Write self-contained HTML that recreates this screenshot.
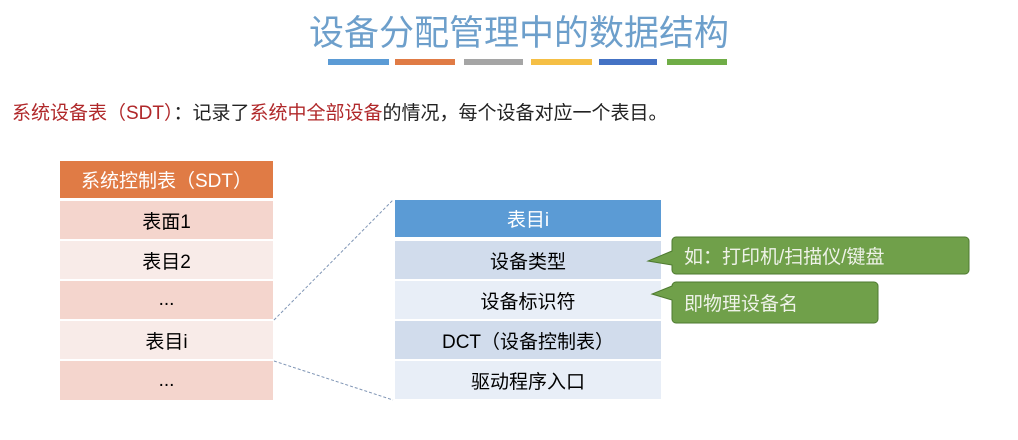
<!DOCTYPE html>
<html><head><meta charset="utf-8"><style>
body{margin:0;width:1018px;height:440px;background:#fff;position:relative;overflow:hidden;font-family:"Liberation Sans","Noto Sans CJK SC",sans-serif;}
.a{position:absolute;box-sizing:border-box;display:flex;align-items:center;justify-content:center;white-space:nowrap}
</style></head><body>
<div class="a" style="left:10px;top:8px;width:1018px;height:44px;font-size:35px;color:#6d9fcb;">设备分配管理中的数据结构</div>
<div style="position:absolute;top:59px;left:328px;width:61px;height:6px;background:#5b9bd5"></div>
<div style="position:absolute;top:59px;left:395px;width:60px;height:6px;background:#e07b45"></div>
<div style="position:absolute;top:59px;left:464px;width:59px;height:6px;background:#a5a5a5"></div>
<div style="position:absolute;top:59px;left:531px;width:61px;height:6px;background:#f5bf45"></div>
<div style="position:absolute;top:59px;left:599px;width:58px;height:6px;background:#4472c4"></div>
<div style="position:absolute;top:59px;left:667px;width:60px;height:6px;background:#70ad47"></div>
<div style="position:absolute;left:12px;top:98px;font-size:19px;color:#222;white-space:nowrap"><span style="color:#b0282a">系统设备表（SDT）</span>：记录了<span style="color:#b0282a">系统中全部设备</span>的情况，每个设备对应一个表目。</div>

<div class="a" style="left:60px;top:161px;width:213px;height:37px;background:#e07b45;color:#fff;font-size:19px">系统控制表（SDT）</div>
<div class="a" style="left:60px;top:201px;width:213px;height:38px;background:#f4d5cd;font-size:19px">表面1</div>
<div class="a" style="left:60px;top:241px;width:213px;height:38px;background:#f8ebe8;font-size:19px">表目2</div>
<div class="a" style="left:60px;top:281px;width:213px;height:38px;background:#f4d5cd;font-size:19px">...</div>
<div class="a" style="left:60px;top:321px;width:213px;height:38px;background:#f8ebe8;font-size:19px">表目i</div>
<div class="a" style="left:60px;top:361px;width:213px;height:39px;background:#f4d5cd;font-size:19px">...</div>

<div class="a" style="left:395px;top:200px;width:266px;height:37px;background:#5b9bd5;color:#fff;font-size:19px">表目i</div>
<div class="a" style="left:395px;top:241px;width:266px;height:38px;background:#d1dcec;font-size:19px">设备类型</div>
<div class="a" style="left:395px;top:281px;width:266px;height:38px;background:#e8eef7;font-size:19px">设备标识符</div>
<div class="a" style="left:395px;top:321px;width:266px;height:38px;background:#d1dcec;font-size:19px">DCT（设备控制表）</div>
<div class="a" style="left:395px;top:361px;width:266px;height:38px;background:#e8eef7;font-size:19px">驱动程序入口</div>
<svg style="position:absolute;left:0;top:0" width="1018" height="440">
<line x1="274" y1="320" x2="393" y2="200" stroke="#7f95b5" stroke-dasharray="3,2"/>
<line x1="274" y1="361" x2="393" y2="400" stroke="#7f95b5" stroke-dasharray="3,2"/>
<path d="M676 237 h289 a4 4 0 0 1 4 4 v29 a4 4 0 0 1 -4 4 h-289 a4 4 0 0 1 -4 -4 v-5 l-24 -4 l24 -10 v-10 a4 4 0 0 1 4 -4z" fill="#70a04a" stroke="#4e7a30"/>
<path d="M676 282 h198 a4 4 0 0 1 4 4 v33 a4 4 0 0 1 -4 4 h-198 a4 4 0 0 1 -4 -4 v-19 l-20 -6 l20 -8 v-0 a4 4 0 0 1 4 -4z" fill="#70a04a" stroke="#4e7a30"/>
</svg>
<div style="position:absolute;left:684px;top:242px;font-size:19px;color:#eef2e8;white-space:nowrap">如：打印机/扫描仪/键盘</div>
<div style="position:absolute;left:684px;top:289px;font-size:19px;color:#eef2e8;white-space:nowrap">即物理设备名</div>
</body></html>
